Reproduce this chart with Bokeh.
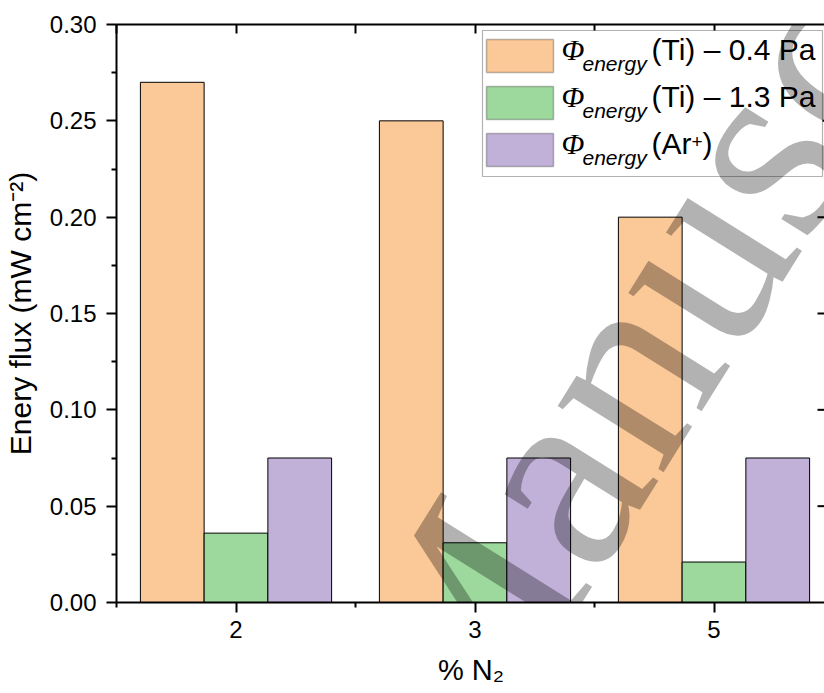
import numpy as np
from bokeh.plotting import figure
from bokeh.models import Range1d, LinearAxis, FixedTicker, BoxAnnotation, Label, PrintfTickFormatter
from bokeh.embed import file_html
from bokeh.resources import INLINE

# ---------------- data ----------------
categories = ["2", "3", "5"]                 # % N2
phi_ti_04 = [0.270, 0.250, 0.200]           # Phi_energy (Ti) - 0.4 Pa
phi_ti_13 = [0.036, 0.031, 0.021]           # Phi_energy (Ti) - 1.3 Pa
phi_ar = [0.075, 0.075, 0.075]              # Phi_energy (Ar+)
y_ticks = [0.00, 0.05, 0.10, 0.15, 0.20, 0.25, 0.30]
y_minor = [0.025, 0.075, 0.125, 0.175, 0.225, 0.275]
legend_main = ["(Ti) \u2013 0.4 Pa", "(Ti) \u2013 1.3 Pa", "(Ar"]
colors = ["#FBC897", "#9DD89D", "#C1B1D8"]

# ---------------- layout ----------------
LEFT, TOP = 115, 24
FW, FH = 709, 578
BOTTOM = 91
PX_PER_UNIT = 239.0
X0 = 0.5
X1 = X0 + FW / PX_PER_UNIT
Y0, Y1 = 0.0, 0.30

def wx(X):  # picture pixel -> data x (layout of annotations only)
    return X0 + (X - LEFT) / PX_PER_UNIT

def wy(Y):
    return Y1 * (TOP + FH - Y) / FH

pos = np.arange(1, len(categories) + 1, dtype=float)
bar_w = 0.8 / 3

p = figure(frame_width=FW, frame_height=FH, output_backend="svg", toolbar_location=None,
           x_range=Range1d(X0, X1), y_range=Range1d(Y0, Y1),
           min_border_left=LEFT, min_border_right=0, min_border_top=TOP, min_border_bottom=BOTTOM)
p.outline_line_color = None
p.grid.visible = False
p.background_fill_color = "white"
p.border_fill_color = "white"

series = [phi_ti_04, phi_ti_13, phi_ar]
offsets = [-bar_w, 0.0, bar_w]
for vals, off, col in zip(series, offsets, colors):
    p.vbar(x=pos + off, top=vals, bottom=0, width=bar_w, fill_color=col,
           line_color="black", line_width=1)

# right-side inward ticks (the right axis line itself lies just beyond the picture)
rt = [t for t in y_ticks if 0 < t < Y1]
p.segment(x0=[X1 - 8 / PX_PER_UNIT] * len(rt), x1=[X1] * len(rt), y0=rt, y1=rt,
          line_color="black", line_width=2)

FONT = "Liberation Sans"

xa = p.xaxis[0]
xa.ticker = FixedTicker(ticks=list(pos), minor_ticks=[0.5, 1.5, 2.5, 3.5])
xa.major_label_overrides = {float(v): c for v, c in zip(pos, categories)}
xa.axis_label = "% N\u2082"
ya = p.yaxis[0]
ya.ticker = FixedTicker(ticks=y_ticks, minor_ticks=y_minor)
ya.formatter = PrintfTickFormatter(format="%.2f")
ya.axis_label = "Enery flux (mW cm\u207b\u00b2)"
for ax in (xa, ya):
    ax.axis_line_width = 2
    ax.major_tick_line_width = 2
    ax.minor_tick_line_width = 2
    ax.major_tick_in = 0
    ax.major_tick_out = 10
    ax.minor_tick_in = 0
    ax.minor_tick_out = 5
    ax.major_label_text_font = FONT
    ax.major_label_text_font_size = "24px"
    ax.major_label_text_color = "black"
    ax.axis_label_text_font = FONT
    ax.axis_label_text_font_style = "normal"
    ax.axis_label_text_color = "black"
xa.axis_label_text_font_size = "29px"
ya.axis_label_text_font_size = "30px"
xa.major_label_standoff = 8
xa.axis_label_standoff = 13
ya.major_label_standoff = 10
ya.axis_label_standoff = 10

top = LinearAxis(ticker=FixedTicker(ticks=list(pos), minor_ticks=[0.5, 1.5, 2.5, 3.5]),
                 major_label_text_font_size="1px", major_label_text_color=None, major_label_standoff=0,
                 major_tick_in=9, major_tick_out=0, minor_tick_in=9, minor_tick_out=0,
                 axis_line_width=2, major_tick_line_width=2, minor_tick_line_width=2)
p.add_layout(top, "above")

# ---------------- legend (drawn by hand for the sub/superscripts) ----------------
p.add_layout(BoxAnnotation(left=wx(481), right=wx(821), top=wy(30), bottom=wy(176),
                           fill_color="white", fill_alpha=1, line_color="black", line_width=1.2))
row_top = [39, 86, 133]
row_base = [65, 112, 159]
for i, col in enumerate(colors):
    p.add_layout(BoxAnnotation(left=wx(485), right=wx(552), top=wy(row_top[i]), bottom=wy(row_top[i] + 33),
                               fill_color=col, fill_alpha=1, line_color="#222222", line_width=1.5))
    b = row_base[i]
    p.add_layout(Label(x=wx(560), y=wy(b), text="\u03a6", text_font="Liberation Serif",
                       text_font_style="italic", text_font_size="30px", text_color="black"))
    p.add_layout(Label(x=wx(581), y=wy(b + 9), text="energy", text_font=FONT,
                       text_font_style="italic", text_font_size="21px", text_color="black"))
    p.add_layout(Label(x=wx(650), y=wy(b), text=legend_main[i], text_font=FONT,
                       text_font_size="30px", text_color="black"))
p.add_layout(Label(x=wx(650 + 1.333 * 30), y=wy(row_base[2] - 12), text="+", text_font=FONT,
                   text_font_size="19px", text_color="black"))
p.add_layout(Label(x=wx(650 + 1.333 * 30 + 11), y=wy(row_base[2]), text=")", text_font=FONT,
                   text_font_size="30px", text_color="black"))

# ---------------- watermark ----------------
p.add_layout(Label(x=wx(389), y=wy(736), text="Manuscript", angle=58, angle_units="deg",
                   text_font="Liberation Serif", text_font_size="272px", text_color="black",
                   text_alpha=0.3, text_baseline="alphabetic", text_align="left", level="overlay"))

open("out.html", "w").write(file_html(p, INLINE))
